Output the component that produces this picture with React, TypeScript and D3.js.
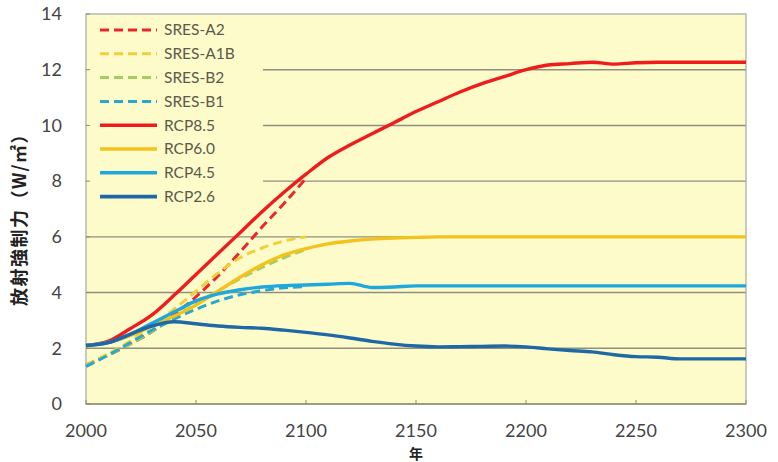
import React from 'react'
import * as d3 from 'd3'

// years for each family of scenarios
const sresYears = [2000, 2010, 2020, 2030, 2040, 2050, 2060, 2070, 2080, 2090, 2100]
const rcpYears = [
  2000, 2010, 2020, 2030, 2040, 2050, 2060, 2070, 2080, 2090, 2100,
  2110, 2120, 2130, 2140, 2150, 2160, 2170, 2180, 2190, 2200,
  2210, 2220, 2230, 2240, 2250, 2260, 2270, 2280, 2290, 2300,
]

// SRES scenarios (W/m2), end in 2100
const sresA2 = [1.4, 1.75, 2.15, 2.6, 3.2, 3.85, 4.6, 5.45, 6.35, 7.2, 8.1]
const sresA1B = [1.4, 1.8, 2.25, 2.8, 3.4, 4.05, 4.7, 5.25, 5.6, 5.85, 6.0]
const sresB2 = [1.35, 1.75, 2.15, 2.6, 3.1, 3.6, 4.05, 4.5, 4.9, 5.25, 5.55]
const sresB1 = [1.35, 1.75, 2.2, 2.65, 3.05, 3.4, 3.7, 3.92, 4.07, 4.17, 4.22]

// RCP scenarios (W/m2), to 2300
const rcp85 = [
  2.1, 2.25, 2.7, 3.2, 3.9, 4.65, 5.4, 6.15, 6.9, 7.6, 8.25,
  8.85, 9.3, 9.7, 10.1, 10.5, 10.85, 11.2, 11.5, 11.75, 12.0,
  12.17, 12.22, 12.27, 12.2, 12.25, 12.27, 12.27, 12.27, 12.27, 12.27,
]
const rcp60 = [
  2.1, 2.2, 2.45, 2.8, 3.15, 3.55, 4.05, 4.55, 5.0, 5.35, 5.58,
  5.75, 5.85, 5.92, 5.96, 5.98, 6.0, 6.0, 6.0, 6.0, 6.0,
  6.0, 6.0, 6.0, 6.0, 6.0, 6.0, 6.0, 6.0, 6.0, 6.0,
]
const rcp45 = [
  2.1, 2.2, 2.5, 2.9, 3.3, 3.7, 3.95, 4.1, 4.2, 4.25, 4.27,
  4.3, 4.33, 4.18, 4.2, 4.24, 4.24, 4.24, 4.24, 4.24, 4.24,
  4.24, 4.24, 4.24, 4.24, 4.24, 4.24, 4.24, 4.24, 4.24, 4.24,
]
const rcp26 = [
  2.1, 2.2, 2.5, 2.8, 2.95, 2.88, 2.8, 2.75, 2.72, 2.65, 2.57,
  2.48, 2.37, 2.25, 2.15, 2.08, 2.05, 2.06, 2.07, 2.08, 2.05,
  1.98, 1.92, 1.87, 1.77, 1.7, 1.68, 1.62, 1.62, 1.62, 1.62,
]

const xTicks = [2000, 2050, 2100, 2150, 2200, 2250, 2300]
const yTicks = [0, 2, 4, 6, 8, 10, 12, 14]

const series = [
  { name: 'SRES-A2', years: sresYears, values: sresA2, color: '#e8282a', dashed: true },
  { name: 'SRES-A1B', years: sresYears, values: sresA1B, color: '#efcf3a', dashed: true },
  { name: 'SRES-B2', years: sresYears, values: sresB2, color: '#9fd060', dashed: true },
  { name: 'SRES-B1', years: sresYears, values: sresB1, color: '#27a9cf', dashed: true },
  { name: 'RCP8.5', years: rcpYears, values: rcp85, color: '#ee1c1c', dashed: false },
  { name: 'RCP6.0', years: rcpYears, values: rcp60, color: '#f4c21c', dashed: false },
  { name: 'RCP4.5', years: rcpYears, values: rcp45, color: '#1fa8dc', dashed: false },
  { name: 'RCP2.6', years: rcpYears, values: rcp26, color: '#1f68a6', dashed: false },
]

const W = 778
const H = 462
const plot = { left: 86, right: 746, top: 14, bottom: 404 }
const fill = '#fefbcb'
const tickFont = 'Lato, "Liberation Sans", sans-serif'

export default function App() {
  const x = d3.scaleLinear().domain([2000, 2300]).range([plot.left, plot.right])
  const y = d3.scaleLinear().domain([0, 14]).range([plot.bottom, plot.top])

  const line = d3.line<[number, number]>()
    .x(d => x(d[0]))
    .y(d => y(d[1]))
    .curve(d3.curveMonotoneX)

  // legend rows
  const legendTop = 30
  const legendStep = 23.8

  return (
    <svg width={W} height={H} style={{ position: 'absolute', left: 0, top: 0, background: '#fff' }}>
      <rect x={plot.left} y={plot.top} width={plot.right - plot.left} height={plot.bottom - plot.top} fill={fill} />

      {/* gridlines */}
      {yTicks.filter(t => t > 0 && t < 14).map(t => (
        <line key={t} x1={plot.left} x2={plot.right} y1={y(t)} y2={y(t)} stroke="#8f8f80" strokeWidth={1.4} />
      ))}

      {/* legend background hides the grid under it */}
      <rect x={plot.left + 1} y={plot.top + 1} width={176} height={192} fill={fill} />

      {/* frame */}
      <rect x={plot.left} y={plot.top} width={plot.right - plot.left} height={plot.bottom - plot.top}
        fill="none" stroke="#a8a8a0" strokeWidth={1.2} />
      <line x1={plot.left} x2={plot.right} y1={plot.bottom} y2={plot.bottom} stroke="#8c8c70" strokeWidth={1.6} />

      {/* small inside ticks */}
      {xTicks.map(t => (
        <line key={t} x1={x(t)} x2={x(t)} y1={plot.bottom} y2={plot.bottom - 4} stroke="#8c8c70" />
      ))}
      {yTicks.map(t => (
        <line key={t} x1={plot.left} x2={plot.left + 4} y1={y(t)} y2={y(t)} stroke="#8c8c70" />
      ))}

      {/* series */}
      {series.map(s => (
        <path key={s.name}
          d={line(s.years.map((yr, i) => [yr, s.values[i]] as [number, number])) || ''}
          fill="none" stroke={s.color}
          strokeWidth={s.dashed ? 3 : 3.4}
          strokeDasharray={s.dashed ? '9 5' : undefined}
          strokeLinejoin="round" />
      ))}

      {/* legend */}
      {series.map((s, i) => {
        const ly = legendTop + i * legendStep
        return (
          <g key={s.name}>
            <line x1={100} x2={157} y1={ly} y2={ly} stroke={s.color}
              strokeWidth={s.dashed ? 3 : 3.6}
              strokeDasharray={s.dashed ? '9 5' : undefined} />
            <text x={164} y={ly} dy="0.35em" fontFamily={tickFont} fontSize={15.5} fill="#5a5a4a">{s.name}</text>
          </g>
        )
      })}

      {/* y tick labels */}
      {yTicks.map(t => (
        <text key={t} x={62} y={y(t)} dy="0.35em" textAnchor="end" fontFamily={tickFont} fontSize={18} fill="#444">{t}</text>
      ))}

      {/* x tick labels */}
      {xTicks.map(t => (
        <text key={t} x={x(t)} y={437} textAnchor="middle" fontFamily={tickFont} fontSize={18} fill="#444">{t}</text>
      ))}

      {/* axis titles */}
      <text x={416} y={459} textAnchor="middle" fontFamily='"Noto Sans CJK JP", sans-serif' fontWeight="bold" fontSize={14} fill="#222">年</text>
      <text transform="translate(20,215) rotate(-90)" textAnchor="middle" dy="0.35em"
        fontFamily='"Noto Sans CJK JP", sans-serif' fontWeight="bold" fontSize={18} letterSpacing={1.5} fill="#222">
        放射強制力（W/㎡）
      </text>
    </svg>
  )
}
